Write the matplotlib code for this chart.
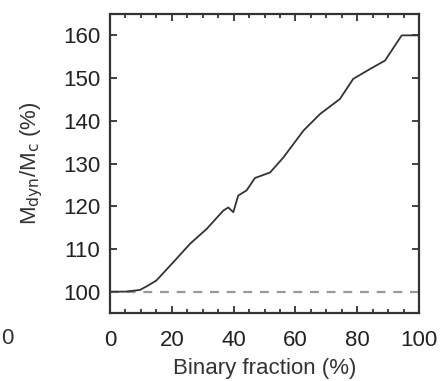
import matplotlib
matplotlib.use("Agg")
import matplotlib.pyplot as plt
from matplotlib.ticker import MultipleLocator

plt.rcParams['font.family'] = ['Liberation Sans', 'DejaVu Sans']

binary_fraction = [0, 5, 9.7, 12, 15, 20.5, 25.9, 31.3, 36.7, 38.3, 39.9, 41.5, 44.2,
                   46.9, 51.8, 56.1, 62.6, 68, 74.4, 78.7, 84.1, 89, 94.4, 100]
mass_ratio = [100, 100, 100.4, 101.3, 102.6, 106.9, 111.2, 114.7, 119, 119.7, 118.6, 122.5, 123.7,
              126.6, 127.9, 131.4, 137.7, 141.6, 145.1, 149.8, 152.1, 154.1, 160, 160]
baseline_x = [0, 100]
baseline_y = [100, 100]

W, H = 447, 381
fig = plt.figure(figsize=(W/100, H/100), dpi=100)
ax = fig.add_axes([110/W, 1-313/H, (419-110)/W, (313-14)/H])

ax.plot(baseline_x, baseline_y, color='#999999', lw=1.6, ls=(0, (4, 3.5)))
ax.plot(binary_fraction, mass_ratio, color='#333333', lw=1.3)

ax.set_xlim(0, 100)
ax.set_ylim(95, 165)
ax.xaxis.set_major_locator(MultipleLocator(20))
ax.xaxis.set_minor_locator(MultipleLocator(5))
ax.yaxis.set_major_locator(MultipleLocator(10))
ax.tick_params(which='both', direction='in', top=True, right=True, labelsize=16,
               colors='#222222', width=1.2)
ax.tick_params(which='major', length=5)
ax.tick_params(axis='x', which='major', pad=12)
ax.tick_params(axis='y', which='major', pad=7)
ax.tick_params(which='minor', length=3)
for s in ax.spines.values():
    s.set_linewidth(1.6)
    s.set_color('#333333')

ax.set_xlabel('Binary fraction (%)', fontsize=16, color='#333333', labelpad=5)
ax.set_ylabel('M$_{\\rm dyn}$/M$_{\\rm c}$ (%)', fontsize=16, color='#333333', labelpad=13)

fig.text(7/W, 1-338/H, '0', fontsize=16, color='#333333', ha='center', va='center')

fig.savefig('out.png', dpi=100)
